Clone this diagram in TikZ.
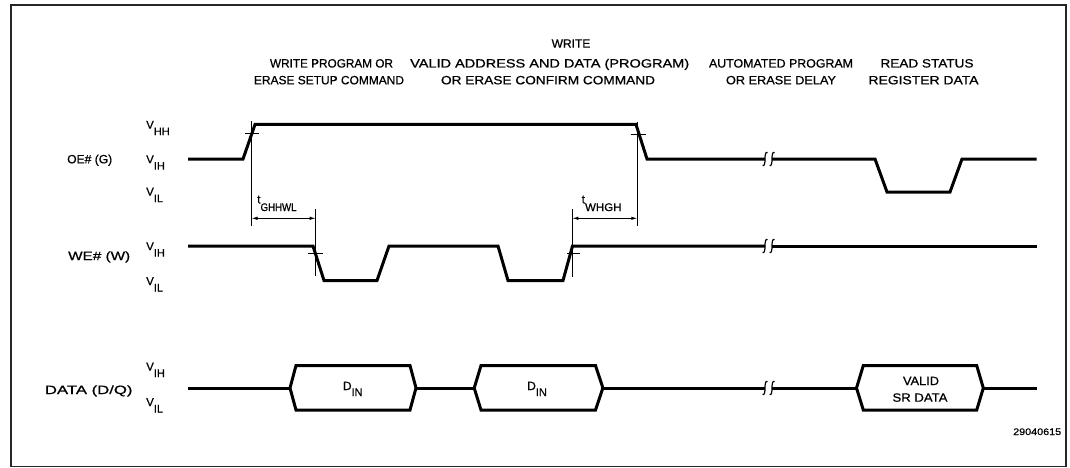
\documentclass[tikz,border=0pt]{standalone}
\usepackage{fontspec}
\setmainfont{Liberation Sans}[FakeBold=0.7]
\usepackage{graphicx}
\usetikzlibrary{arrows.meta}
\newcommand\fitw[2]{\resizebox{#1}{\height}{#2}}
\newcommand\subx[2]{\raisebox{#1}{\fontsize{11}{12}\selectfont #2}}
\begin{document}
\begin{tikzpicture}[x=1pt,y=-1pt,
  sig/.style={line width=3pt},
  thinln/.style={line width=0.9pt},
  brk/.style={line width=1.2pt},
  arr/.style={thinln,{Latex[length=6pt,width=3.5pt]}-{Latex[length=6pt,width=3.5pt]}},
  lab/.style={inner sep=0pt,anchor=base,font=\fontsize{12}{14}\selectfont},
  labw/.style={inner sep=0pt,anchor=base west,font=\fontsize{12}{14}\selectfont},
  vlab/.style={inner sep=0pt,anchor=base west,font=\fontsize{11.5}{13}\selectfont}]
\useasboundingbox (0,0) rectangle (1070,468);
\fill[white] (0,0) rectangle (1070,468);
\draw[line width=1.8pt,black!85] (11,5) rectangle (1066,466.5);

% headers
\node[lab] (h1a) at (331.5,67.5) {\fitw{123pt}{WRITE PROGRAM OR}};
\node[lab] (h1b) at (329,84.3) {\fitw{150pt}{ERASE SETUP COMMAND}};
\node[lab] (h2w) at (571,47.7) {WRITE};
\node[lab] (h2a) at (549.7,67.5) {\fitw{279pt}{VALID ADDRESS AND DATA (PROGRAM)}};
\node[lab] (h2b) at (548,84.3) {\fitw{214pt}{OR ERASE CONFIRM COMMAND}};
\node[lab] (h3a) at (781,67.5) {\fitw{144pt}{AUTOMATED PROGRAM}};
\node[lab] (h3b) at (781,84.3) {\fitw{110pt}{OR ERASE DELAY}};
\node[lab] (h4a) at (927,67.5) {\fitw{93pt}{READ STATUS}};
\node[lab] (h4b) at (923.5,84.3) {\fitw{110pt}{REGISTER DATA}};

% signal names
\node[labw] (noe) at (67,163.3) {\fitw{45pt}{OE\# (G)}};
\node[labw] (nwe) at (68,260) {\fitw{62pt}{WE\# (W)}};
\node[labw] (nda) at (44.7,394) {\fitw{87.6pt}{DATA (D/Q)}};

% level labels
\node[vlab] (oehh) at (146,128.7) {V\subx{-6.5pt}{HH}};
\node[vlab] (oeih) at (146,163.2) {V\subx{-6.5pt}{IH}};
\node[vlab] (oeil) at (146,195.6) {V\subx{-6.5pt}{IL}};
\node[vlab] (weih) at (146,250.2) {V\subx{-6.5pt}{IH}};
\node[vlab] (weil) at (146,285) {V\subx{-6.5pt}{IL}};
\node[vlab] (daih) at (146,370.5) {V\subx{-6.5pt}{IH}};
\node[vlab] (dail) at (146,406) {V\subx{-6.5pt}{IL}};

% OE# waveform
\draw[sig] (188,159) -- (243,159) -- (255,124.5) -- (636,124.5) -- (647,159) -- (765,159);
\draw[sig] (772,159) -- (875,159) -- (887,192) -- (950,192) -- (962,159) -- (1036.5,159);
% WE# waveform
\draw[sig] (188,246) -- (313,246) -- (324,280.5) -- (377,280.5) -- (389,246) -- (498,246)
  -- (508,280.5) -- (563,280.5) -- (572.5,246) -- (765,246);
\draw[sig] (772,246) -- (1036.5,246);
% DATA waveform
\draw[sig] (188,388) -- (290,388);
\draw[sig] (290,388) -- (296,365.5) -- (410,365.5) -- (416,388) -- (410,410) -- (296,410) -- cycle;
\draw[sig] (416,388) -- (474.2,388);
\draw[sig] (474.2,388) -- (481,365.5) -- (595.5,365.5) -- (602.9,388) -- (595.5,410) -- (481,410) -- cycle;
\draw[sig] (602.9,388) -- (765,388);
\draw[sig] (772,388) -- (856.5,388);
\draw[sig] (856.5,388) -- (863.3,365.5) -- (976.7,365.5) -- (983.3,388) -- (976.7,410) -- (863.3,410) -- cycle;
\draw[sig] (983.3,388) -- (1036.5,388);

% break marks
\foreach \yy in {159,246,388}{
  \foreach \xx in {765,772}{
    \draw[brk] (\xx-2.5,\yy+6.5) .. controls (\xx-0.5,\yy+7.5) and (\xx,\yy+4) .. (\xx,\yy)
      .. controls (\xx,\yy-4) and (\xx+0.5,\yy-7.5) .. (\xx+2.5,\yy-6.5);
  }
}

% data labels
\node[labw] (din1) at (342.7,390) {D\subx{-6pt}{IN}};
\node[labw] (din2) at (527,390) {D\subx{-6pt}{IN}};
\node[lab] (sr1) at (921,385) {\fitw{36pt}{VALID}};
\node[lab] (sr2) at (920,401.7) {\fitw{55pt}{SR DATA}};
\node[inner sep=0pt,anchor=base west] (fig) at (1013,435) {\fitw{48pt}{\fontsize{9.5}{10}\selectfont 29040615}};

% tGHHWL
\coordinate (g1t) at (251.5,121.5);
\coordinate (g1b) at (251.5,226);
\coordinate (g2t) at (315.7,209);
\coordinate (g2b) at (315.7,276);
\coordinate (g1a) at (251.5,218.3);
\coordinate (g2a) at (315.7,218.3);
\draw[thinln] (g1t) -- (g1b);
\draw[thinln] (g2t) -- (g2b);
\draw[arr] (g1a) -- (g2a);
\coordinate (k1l) at (245,133);   \coordinate (k1r) at (259,133);
\coordinate (k2l) at (308,253.3); \coordinate (k2r) at (323,253.3);
\draw[thinln] (k1l) -- (k1r);
\draw[thinln] (k2l) -- (k2r);
\node[labw] (tg) at (257,203.5) {t\subx{-7.5pt}{\fitw{36pt}{GHHWL}}};

% tWHGH
\coordinate (w1t) at (572.3,209);
\coordinate (w1b) at (572.3,276.7);
\coordinate (w2t) at (637.3,121.7);
\coordinate (w2b) at (637.3,226);
\coordinate (w1a) at (572.3,218.3);
\coordinate (w2a) at (637.3,218.3);
\draw[thinln] (w1t) -- (w1b);
\draw[thinln] (w2t) -- (w2b);
\draw[arr] (w1a) -- (w2a);
\coordinate (k3l) at (630.7,134);  \coordinate (k3r) at (646,134);
\coordinate (k4l) at (567.3,253.3); \coordinate (k4r) at (580,253.3);
\draw[thinln] (k3l) -- (k3r);
\draw[thinln] (k4l) -- (k4r);
\node[labw] (tw) at (581.5,203.5) {t\subx{-7.5pt}{\fitw{36.5pt}{WHGH}}};
\end{tikzpicture}
\end{document}
